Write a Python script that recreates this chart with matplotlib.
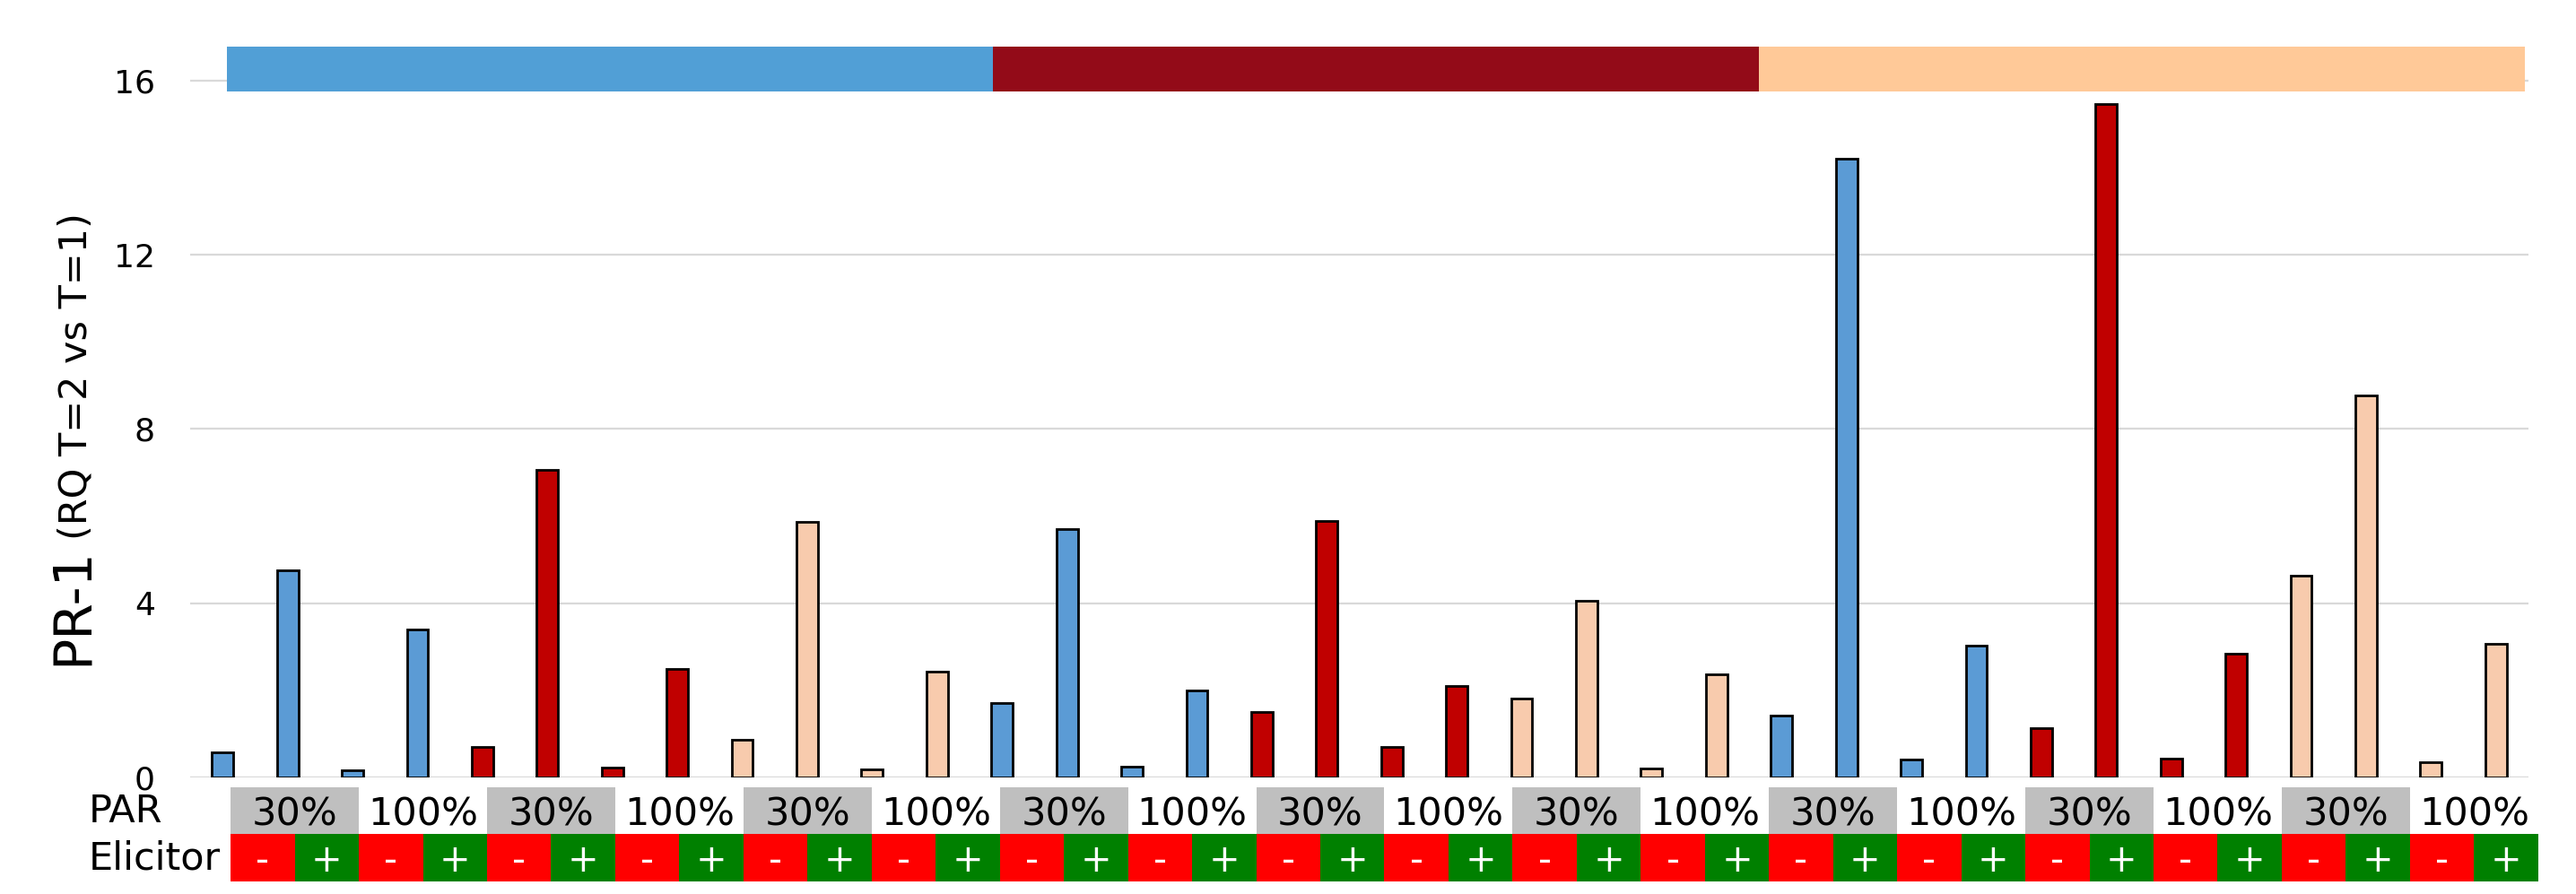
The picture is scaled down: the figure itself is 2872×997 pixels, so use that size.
import matplotlib
matplotlib.use("Agg")
import matplotlib.pyplot as plt
from matplotlib.patches import Rectangle
from matplotlib.transforms import blended_transform_factory

# PR-1 response (RQ T=2 vs T=1), 9 groups of 4: PAR 30% -/+, PAR 100% -/+
values = [0.57, 4.76, 0.16, 3.40,
          0.71, 7.07, 0.23, 2.50,
          0.86, 5.86, 0.19, 2.43,
          1.70, 5.71, 0.25, 2.00,
          1.50, 5.88, 0.71, 2.09,
          1.81, 4.06, 0.21, 2.37,
          1.43, 14.20, 0.41, 3.03,
          1.13, 15.46, 0.43, 2.84,
          4.63, 8.77, 0.34, 3.06]
par_labels = ["30%", "100%"]
elicitor_labels = ["-", "+"]
bar_colors = ["#5B9BD5", "#C00000", "#F8CBAD"]
band_colors = ["#519FD6", "#930B18", "#FFC998"]
yticks = [0, 4, 8, 12, 16]

W, H = 2872, 997
fig = plt.figure(figsize=(W / 100, H / 100), dpi=100)
ax = fig.add_axes([212 / W, 1 - 867 / H, (2819 - 212) / W, (867 - 51) / H])

n = len(values)
x = list(range(n))
colors = [bar_colors[(i // 4) % 3] for i in x]
ax.bar(x, values, width=0.33, color=colors, edgecolor="black", linewidth=2.0, zorder=3)

ax.set_xlim(-0.5, n - 0.5)
ax.set_ylim(0, 16.8)
ax.set_yticks(yticks)
ax.set_xticks([])
ax.tick_params(axis="y", length=0, pad=28, labelsize=26)
ax.yaxis.grid(True, color="#D9D9D9", linewidth=1.6)
ax.set_axisbelow(True)
for s in ax.spines.values():
    s.set_visible(False)

# colour band across the top, one third per bar colour
band_x0, band_x1 = 0.07, 35.44
third = (band_x1 - band_x0) / 3
for k, c in enumerate(band_colors):
    ax.add_patch(Rectangle((band_x0 + k * third, 15.75), third, 1.03,
                           facecolor=c, edgecolor="none", zorder=4, clip_on=False))

# PAR / Elicitor table under the bars
tr = blended_transform_factory(ax.transData, ax.transAxes)
cell0, cellw = 0.124, 0.9868
par_top, par_bot = -0.0135, -0.0772
eli_bot = -0.1422
for i in range(n):
    left = cell0 + cellw * i
    sign = i % 2
    ax.add_patch(Rectangle((left, eli_bot), cellw, par_bot - eli_bot,
                           facecolor="#FF0000" if sign == 0 else "#008000",
                           edgecolor="none", transform=tr, clip_on=False))
    ax.text(left + cellw / 2, (par_bot + eli_bot) / 2 - 0.004, elicitor_labels[sign],
            transform=tr, ha="center", va="center", color="white", fontsize=30)
for j in range(0, n, 2):
    left = cell0 + cellw * j
    p = (j // 2) % 2
    if p == 0:
        ax.add_patch(Rectangle((left, par_bot), 2 * cellw, par_top - par_bot,
                               facecolor="#BFBFBF", edgecolor="none",
                               transform=tr, clip_on=False))
    ax.text(left + cellw, (par_top + par_bot) / 2 - 0.006, par_labels[p],
            transform=tr, ha="center", va="center", color="black", fontsize=31)

fig.text(99 / W, 1 - 905 / H, "PAR", ha="left", va="center", fontsize=31)
fig.text(99 / W, 1 - 957 / H, "Elicitor", ha="left", va="center", fontsize=31)

# y-axis title in two sizes
fig.text(97 / W, 1 - 742 / H, "PR-1", rotation=90, rotation_mode="anchor",
         ha="left", va="baseline", fontsize=42)
fig.text(97 / W, 1 - 602 / H, "(RQ T=2 vs T=1)", rotation=90, rotation_mode="anchor",
         ha="left", va="baseline", fontsize=31)

fig.savefig("out.png", dpi=100)
